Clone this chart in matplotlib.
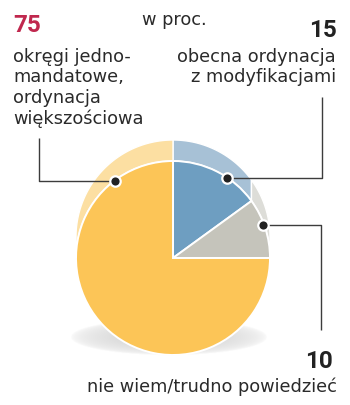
import numpy as np
import matplotlib
matplotlib.use("Agg")
import matplotlib.pyplot as plt
from matplotlib.patches import Polygon

# Survey answers, in percent
labels = ["obecna ordynacja\nz modyfikacjami",
          "nie wiem/trudno powiedzieć",
          "okręgi jedno-\nmandatowe,\nordynacja\nwiększościowa"]
values = [15, 10, 75]
value_labels = ["15", "10", "75"]
face_colors = ["#6E9EC1", "#C5C4BB", "#FCC557"]
side_colors = ["#A7C1D6", "#DDDDD8", "#FCDFA2"]
unit_label = "w proc."

W, H = 350, 405
fig = plt.figure(figsize=(W / 100, H / 100), dpi=100)
ax = fig.add_axes([0, 0, 1, 1])

# pie geometry (pixel-like coordinates, y up)
cx, cy, r = 173, H - 258, 97
depth = 21

# soft shadow under the pie
sx, sy, sw, sh = 169, H - 337, 98, 18
gx = np.linspace(sx - sw * 1.2, sx + sw * 1.2, 260)
gy = np.linspace(sy - sh * 1.6, sy + sh * 1.6, 80)
GX, GY = np.meshgrid(gx, gy)
d = np.sqrt(((GX - sx) / sw) ** 2 + ((GY - sy) / sh) ** 2)
alpha = np.clip(1.0 - d, 0, 1) ** 0.45 * 0.55
rgba = np.zeros(GX.shape + (4,))
rgba[..., :3] = 0.66
rgba[..., 3] = alpha
ax.imshow(rgba, extent=(gx[0], gx[-1], gy[0], gy[-1]), origin="lower",
          interpolation="bilinear", zorder=1, aspect="auto")

# angular extents of slices (clockwise from 12 o'clock)
fracs = np.array(values, dtype=float) / sum(values)
edges = 90 - 360 * np.concatenate([[0], np.cumsum(fracs)])

# extruded side of the pie, visible on the upper half
for i in range(len(values)):
    a_hi, a_lo = edges[i], edges[i + 1]
    lo, hi = max(a_lo, 0), min(a_hi, 180)
    if a_hi <= 0:
        lo, hi = max(a_lo + 360, 0), min(a_hi + 360, 180)
    if hi <= lo:
        continue
    t = np.radians(np.linspace(lo, hi, 80))
    front = np.column_stack([cx + r * np.cos(t), cy + r * np.sin(t)])
    back = np.column_stack([cx + r * np.cos(t[::-1]), cy + depth + r * np.sin(t[::-1])])
    ax.add_patch(Polygon(np.vstack([front, back]), closed=True,
                         facecolor=side_colors[i], edgecolor="white",
                         linewidth=1.0, zorder=2))

# front face of the pie
ax.pie(values, colors=face_colors, startangle=90, counterclock=False,
       center=(cx, cy), radius=r,
       wedgeprops=dict(edgecolor="white", linewidth=1.4, zorder=3))

# leader lines with dots on the pie rim
line_c = "#3c3c3c"
dot_angles = [56, 20, 127]
ends_x = [322, 321, 39]
ends_y = [97, 330, 138]
for ang, ex, ey in zip(dot_angles, ends_x, ends_y):
    px = cx + (r - 1) * np.cos(np.radians(ang))
    py = cy + (r - 1) * np.sin(np.radians(ang))
    ax.plot([px, ex, ex], [py, py, H - ey], color=line_c, lw=1.0,
            zorder=4, solid_capstyle="butt")
    ax.plot(px, py, "o", ms=7.5, mfc="#222222", mec="white", mew=1.6, zorder=5)

font = "DejaVu Sans"
num_font = "Roboto"
txt_c = "#2a2a2a"
fs = 12.8
num_fs = 17.5
step = 20.5


def block(x, y0, text, ha):
    for k, line in enumerate(text.split("\n")):
        ax.text(x, H - (y0 + k * step), line, ha=ha, va="baseline",
                fontsize=fs, color=txt_c, family=font)


ax.text(174, H - 25, unit_label, ha="center", va="baseline", fontsize=fs,
        color=txt_c, family=font)

# majority answer (left)
ax.text(13, H - 32, value_labels[2], ha="left", va="baseline", fontsize=num_fs,
        fontweight="bold", color="#C0284E", family=num_font)
block(13, 62, labels[2], "left")

# modified current system (top right)
ax.text(337, H - 37, value_labels[0], ha="right", va="baseline", fontsize=num_fs,
        fontweight="bold", color="#222222", family=num_font)
block(336, 62, labels[0], "right")

# don't know (bottom right)
ax.text(333, H - 368, value_labels[1], ha="right", va="baseline", fontsize=num_fs,
        fontweight="bold", color="#222222", family=num_font)
block(337, 392, labels[1], "right")

ax.set_xlim(0, W)
ax.set_ylim(0, H)
ax.set_aspect("auto")
ax.axis("off")
fig.savefig("out.png", dpi=100, facecolor="white")
